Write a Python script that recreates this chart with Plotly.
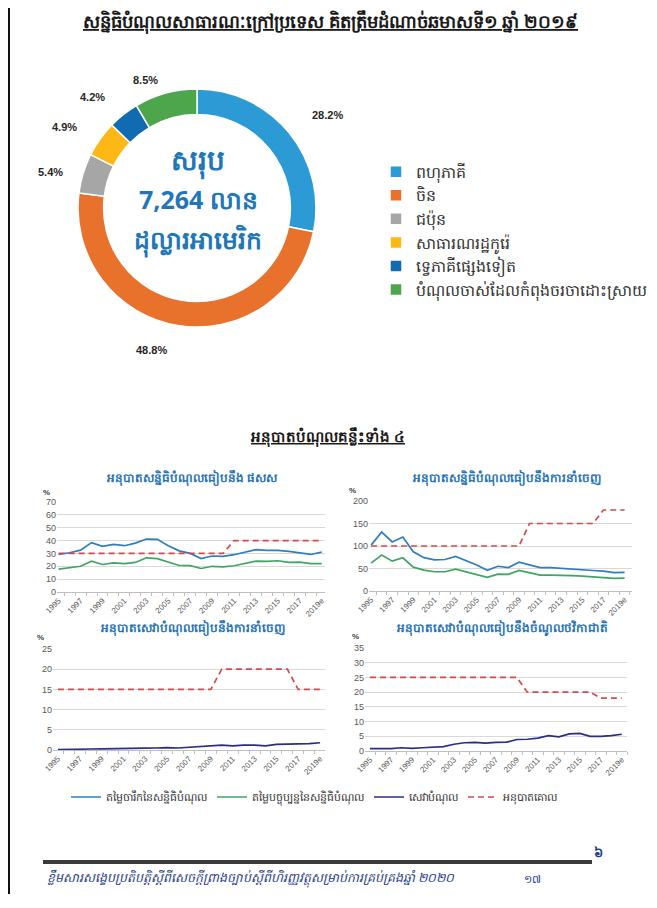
import plotly.graph_objects as go

W, H = 657, 908
OFF = 8               # page body margin of the browser
FW, FH = W - OFF, H - OFF


def px(x):
    return (x - OFF) / FW


def py(y):
    return 1 - (y - OFF) / FH


KH = "Noto Sans, DejaVu Sans, sans-serif"

# ---------------- data ----------------
main_title = "សន្និធិបំណុលសាធារណៈក្រៅប្រទេស គិតត្រឹមដំណាច់ឆមាសទី១ ឆ្នាំ ២០១៩"
donut_labels = ["ពហុភាគី", "ចិន", "ជប៉ុន", "សាធារណរដ្ឋកូរ៉េ", "ទ្វេភាគីផ្សេងទៀត",
                "បំណុលចាស់ដែលកំពុងចរចាដោះស្រាយ"]
donut_values = [28.2, 48.8, 5.4, 4.9, 4.2, 8.5]
donut_colors = ["#2C9AD5", "#E8712C", "#A6A6A6", "#FDB815", "#106BB0", "#4EA64C"]
center_lines = ["សរុប", "7,264 លាន", "ដុល្លារអាមេរិក"]

section_title = "អនុបាតបំណុលគន្លឹះទាំង ៤"
sub_titles = ["អនុបាតសន្និធិបំណុលធៀបនឹង ផសស",
              "អនុបាតសន្និធិបំណុលធៀបនឹងការនាំចេញ",
              "អនុបាតសេវាបំណុលធៀបនឹងការនាំចេញ",
              "អនុបាតសេវាបំណុលធៀបនឹងចំណូលថវិកាជាតិ"]
series_names = ["តម្លៃចារឹកនៃសន្និធិបំណុល", "តម្លៃបច្ចុប្បន្ននៃសន្និធិបំណុល",
                "សេវាបំណុល", "អនុបាតគោល"]

years = ["1995", "1996", "1997", "1998", "1999", "2000", "2001", "2002", "2003",
         "2004", "2005", "2006", "2007", "2008", "2009", "2010", "2011", "2012",
         "2013", "2014", "2015", "2016", "2017", "2018", "2019e"]
year_labels = ["1995", "", "1997", "", "1999", "", "2001", "", "2003", "", "2005", "",
               "2007", "", "2009", "", "2011", "", "2013", "", "2015", "", "2017", "",
               "2019e"]

# Debt stock / GDP
gdp_face = [29.2, 30.5, 32.6, 38.4, 35.5, 37.0, 36.0, 38.0, 41.2, 41.0, 36.0, 32.0, 30.0,
            26.0, 28.0, 27.7, 29.0, 31.3, 33.0, 32.4, 32.4, 31.6, 30.3, 29.2, 31.0]
gdp_pv = [17.8, 18.8, 20.0, 24.0, 21.4, 22.7, 22.0, 23.0, 26.6, 26.0, 23.5, 20.6, 20.5,
          18.3, 20.0, 19.6, 20.4, 22.2, 24.0, 23.8, 24.3, 23.0, 23.2, 22.0, 22.0]
gdp_thr = [30, 30, 30, 30, 30, 30, 30, 30, 30, 30, 30, 30, 30, 30, 30, 30,
           40, 40, 40, 40, 40, 40, 40, 40, 40]

# Debt stock / exports
exp_face = [102, 131, 109, 120, 87, 74, 69, 70, 77, 67, 58, 46, 55, 52, 64, 58,
            52, 52, 50, 48, 46, 45.5, 44, 41, 41.5]
exp_pv = [62, 80, 66.4, 73.8, 53, 46.5, 42.8, 42.8, 48.7, 42.8, 37.6, 30.3, 37.6, 37,
          45.8, 40.6, 35.4, 35.4, 35.4, 34, 33, 31, 29.5, 28, 28.5]
exp_thr = [100, 100, 100, 100, 100, 100, 100, 100, 100, 100, 100, 100, 100, 100, 100,
           150, 150, 150, 150, 150, 150, 150, 180, 180, 180]

# Debt service / exports
dse_service = [0.1, 0.2, 0.25, 0.25, 0.3, 0.3, 0.3, 0.35, 0.45, 0.5, 0.6, 0.5, 0.7, 0.8,
               1.1, 1.2, 1.0, 1.2, 1.2, 1.0, 1.4, 1.4, 1.5, 1.6, 1.8]
dse_thr = [15, 15, 15, 15, 15, 15, 15, 15, 15, 15, 15, 15, 15, 15, 15,
           20, 20, 20, 20, 20, 20, 20, 15, 15, 15]

# Debt service / revenue
dsr_service = [0.8, 0.7, 0.8, 1.1, 0.9, 1.1, 1.3, 1.5, 2.3, 2.8, 2.9, 2.7, 2.9, 3.0,
               3.9, 4.0, 4.4, 5.2, 4.8, 5.8, 6.0, 5.0, 5.0, 5.2, 5.7]
dsr_thr = [25, 25, 25, 25, 25, 25, 25, 25, 25, 25, 25, 25, 25, 25, 25,
           20, 20, 20, 20, 20, 20, 20, 18, 18, 18]

footer_text = "ខ្លឹមសារសង្ខេបប្រតិបត្តិស្តីពីសេចក្តីព្រាងច្បាប់ស្តីពីហិរញ្ញវត្ថុសម្រាប់ការគ្រប់គ្រងឆ្នាំ ២០២០"
page_no = "១៧"

C_FACE, C_PV, C_SERV, C_THR = "#2E7EC0", "#3FA565", "#2B2F80", "#D24B4B"

fig = go.Figure()

# ---------------- donut ----------------
fig.add_trace(go.Pie(
    labels=donut_labels, values=donut_values, sort=False, direction="clockwise",
    hole=0.785, textinfo="none", marker=dict(colors=donut_colors, line=dict(color="white", width=1.5)),
    domain=dict(x=[px(78), px(316)], y=[py(327), py(89)]), legend="legend",
    hoverinfo="label+percent",
))

# ---------------- line subplots ----------------
panels = [
    ("x", "y", [(gdp_face, 0), (gdp_pv, 1), (gdp_thr, 3)]),
    ("x2", "y2", [(exp_face, 0), (exp_pv, 1), (exp_thr, 3)]),
    ("x3", "y3", [(dse_service, 2), (dse_thr, 3)]),
    ("x4", "y4", [(dsr_service, 2), (dsr_thr, 3)]),
]
colors = [C_FACE, C_PV, C_SERV, C_THR]
shown = set()
for xa, ya, lst in panels:
    for vals, k in lst:
        fig.add_trace(go.Scatter(
            x=years, y=vals, mode="lines", xaxis=xa, yaxis=ya,
            name=series_names[k], legend="legend2", legendgroup=str(k),
            legendrank=k + 1, showlegend=k not in shown,
            line=dict(color=colors[k], width=1.7,
                      dash="6px,4px" if k == 3 else "solid"),
        ))
        shown.add(k)

axis_common = dict(showgrid=False, showline=True, linecolor="#BFBFBF", linewidth=1,
                   ticks="outside", ticklen=3, tickcolor="#BFBFBF", tickson="boundaries",
                   type="category", tickmode="array", tickvals=years, ticktext=year_labels,
                   tickangle=-45, tickfont=dict(size=8, color="#595959", family="Liberation Sans"))
yaxis_common = dict(showgrid=True, gridcolor="#D9D9D9", gridwidth=1, zeroline=False,
                    showline=False, ticks="", tickfont=dict(size=9, color="#595959", family="Liberation Sans"))

fig.update_layout(
    xaxis=dict(domain=[px(57), px(325)], anchor="y", range=[-0.15, 24.3], **axis_common),
    yaxis=dict(domain=[py(592), py(502)], anchor="x", range=[0, 70], dtick=10, **yaxis_common),
    xaxis2=dict(domain=[px(369), px(632)], anchor="y2", range=[-0.2, 24.7], **axis_common),
    yaxis2=dict(domain=[py(591), py(501)], anchor="x2", range=[0, 200], dtick=50, **yaxis_common),
    xaxis3=dict(domain=[px(53), px(325)], anchor="y3", range=[-0.45, 24.45], **axis_common),
    yaxis3=dict(domain=[py(750), py(649)], anchor="x3", range=[0, 25], dtick=5, **yaxis_common),
    xaxis4=dict(domain=[px(365), px(627)], anchor="y4", range=[-0.48, 24.5], **axis_common),
    yaxis4=dict(domain=[py(751), py(648)], anchor="x4", range=[0, 35], dtick=5, **yaxis_common),
)

# ---------------- annotations ----------------
ann = []


def text(x, y, t, size, color="#222", bold=False, xanchor="center", family=KH, italic=False):
    s = t
    if bold:
        s = "<b>" + s + "</b>"
    if italic:
        s = "<i>" + s + "</i>"
    ann.append(dict(x=px(x), y=py(y), xref="paper", yref="paper", text=s, showarrow=False,
                    xanchor=xanchor, yanchor="middle", font=dict(size=size, color=color, family=family)))


text(330, 22, "<u>" + main_title + "</u>", 18, "#1A1A1A", bold=True)

pct_pos = [(327, 115), (151, 350), (50, 172), (64, 127), (92, 97), (145, 80)]
for (x, y), v in zip(pct_pos, donut_values):
    text(x, y, f"{v:.1f}%", 11, "#262626", bold=True, family="Liberation Sans")

text(198, 160, center_lines[0], 28, "#1F77B8", bold=True)
text(198, 199, center_lines[1], 25, "#1F77B8", bold=True)
text(198, 240, center_lines[2], 25, "#1F77B8", bold=True)

text(328, 437, "<u>" + section_title + "</u>", 15, "#1A1A1A", bold=True)

sub_pos = [(192, 478), (506, 478), (192, 628), (502, 628)]
for (x, y), t in zip(sub_pos, sub_titles):
    text(x, y, t, 12, "#2773B5", bold=True)

for x, y in [(46, 492), (352, 491), (40, 637), (355, 636)]:
    text(x, y, "%", 8, "#404040", bold=True, family="Liberation Sans")

text(45, 878, footer_text, 12.5, "#1F3C8A", xanchor="left", italic=True)
text(532, 878, page_no, 11, "#1F3C8A")
text(598, 852, "៦", 13, "#1F3C8A", bold=True)

fig.update_layout(annotations=ann)

fig.update_layout(shapes=[
    dict(type="rect", xref="paper", yref="paper", x0=px(43), x1=px(592), y0=py(864), y1=py(860),
         fillcolor="#3A3A3A", line=dict(width=0)),
    dict(type="line", xref="paper", yref="paper", x0=px(9), x1=px(9), y0=py(8), y1=py(894),
         line=dict(color="#111", width=2)),
])

fig.update_layout(
    width=FW, height=FH, margin=dict(l=0, r=0, t=0, b=0, autoexpand=False),
    paper_bgcolor="white", plot_bgcolor="white",
    font=dict(family=KH, color="#333"),
    showlegend=True,
    legend=dict(x=px(376), y=py(155), xanchor="left", yanchor="top", orientation="v",
                font=dict(size=15.8, color="#333", family=KH), bgcolor="rgba(0,0,0,0)",
                traceorder="normal"),
    legend2=dict(x=px(314), y=py(797), xanchor="center", yanchor="middle", orientation="h",
                 font=dict(size=11, color="#333", family=KH), bgcolor="rgba(0,0,0,0)",
                 itemwidth=30),
)

fig.write_html("out.html")
